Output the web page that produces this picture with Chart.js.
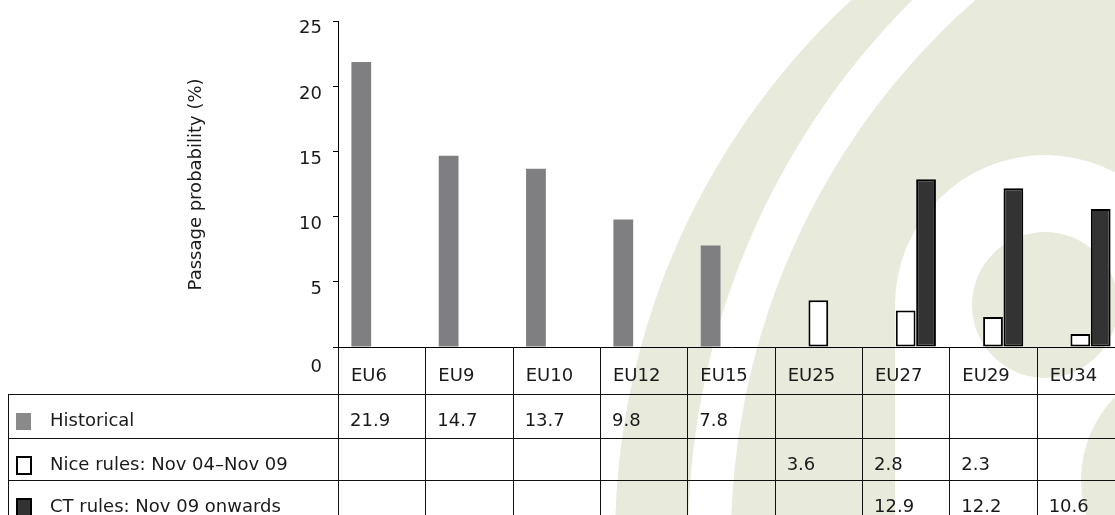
<!DOCTYPE html>
<html>
<head>
<meta charset="utf-8">
<script src="https://cdn.jsdelivr.net/npm/chart.js@4"></script>
<style>
  html, body { margin: 0; padding: 0; background: #fff; overflow: hidden; }
  canvas { display: block; }
</style>
</head>
<body>
<canvas id="passChart" width="1124" height="515"></canvas>
<script>
let categories = ["EU6", "EU9", "EU10", "EU12", "EU15", "EU25", "EU27", "EU29", "EU34"];
let historical = [21.9, 14.7, 13.7, 9.8, 7.8, null, null, null, null];
let niceRules = [null, null, null, null, null, 3.6, 2.8, 2.3, 1.0];
let ctRules = [null, null, null, null, null, null, 12.9, 12.2, 10.6];
let seriesNames = ["Historical", "Nice rules: Nov 04\u2013Nov 09", "CT rules: Nov 09 onwards"];
let yTicks = [0, 5, 10, 15, 20, 25];
// the small Nice-rules bar for EU34 has no number printed in the table
let unlisted = { 1: ["EU34"] };

let font = "'DejaVu Sans', sans-serif";
let beige = "#e8eadb";

// pale logo behind the chart
let watermark = {
  id: "watermark",
  beforeDraw(chart) {
    let c = chart.ctx;
    let disc = (x, y, r, col) => { c.fillStyle = col; c.beginPath(); c.arc(x, y, r, 0, Math.PI * 2); c.fill(); };
    c.save();
    disc(1350, 540, 735, beige);
    disc(1450, 540, 762, "#fff");
    disc(1450, 540, 719, beige);
    disc(1045, 305, 150, "#fff");
    c.fillStyle = "#fff";
    c.fillRect(895, 305, 230, 220);
    disc(1045, 305, 73, beige);
    disc(1200, 480, 119, beige);
    c.restore();
  }
};

// Excel style data table under the plot
let dataTable = {
  id: "dataTable",
  afterDraw(chart) {
    let c = chart.ctx;
    let a = chart.chartArea;
    let n = categories.length;
    let band = (a.right - a.left) / n;
    let rows = [a.bottom, a.bottom + 47, a.bottom + 91, a.bottom + 133];
    let bottom = chart.height + 5;
    let series = [historical, niceRules, ctRules];

    c.save();
    c.strokeStyle = "#111";
    c.lineWidth = 1;
    c.beginPath();
    for (let i = 1; i < rows.length; i++) {
      c.moveTo(8, Math.round(rows[i]) + 0.5);
      c.lineTo(a.right, Math.round(rows[i]) + 0.5);
    }
    c.moveTo(8.5, rows[1]);
    c.lineTo(8.5, bottom);
    for (let i = 0; i <= n; i++) {
      let x = Math.round(a.left + i * band) + 0.5;
      c.moveTo(x, a.bottom);
      c.lineTo(x, bottom);
    }
    c.stroke();

    c.fillStyle = "#1a1a1a";
    c.font = "18px " + font;
    c.textBaseline = "alphabetic";
    c.textAlign = "right";
    c.fillText(String(yTicks[0]), 322, rows[0] + 25);
    c.textAlign = "left";
    categories.forEach((cat, i) => c.fillText(cat, a.left + i * band + 13, rows[0] + 34));

    series.forEach((vals, s) => {
      let top = rows[s + 1];
      let ds = chart.data.datasets[s];
      c.fillStyle = ds.backgroundColor;
      if (s === 0) {
        c.fillStyle = "#8a8a8a";
        c.fillRect(16, top + 19, 15, 17);
      } else {
        c.fillRect(17, top + 19, 14, 17);
        c.strokeStyle = "#000";
        c.lineWidth = 2;
        c.strokeRect(17, top + 19, 14, 17);
      }
      c.fillStyle = "#1a1a1a";
      c.fillText(seriesNames[s], 50, top + 32);
      vals.forEach((v, i) => {
        if (v === null) return;
        if ((unlisted[s] || []).includes(categories[i])) return;
        c.fillText(v.toFixed(1), a.left + i * band + 12, top + 32);
      });
    });
    c.restore();
  }
};

let ctx = document.getElementById("passChart").getContext("2d");

let chart = new Chart(ctx, {
  type: "bar",
  data: {
    labels: categories,
    datasets: [
      { label: seriesNames[0], data: historical, backgroundColor: "#7f7f81", borderWidth: 0 },
      { label: seriesNames[1], data: niceRules, backgroundColor: "#ffffff", borderColor: "#000", borderWidth: 2, borderSkipped: false },
      { label: seriesNames[2], data: ctRules, backgroundColor: "#333333", borderColor: "#000", borderWidth: 2, borderSkipped: false }
    ]
  },
  options: {
    responsive: false,
    animation: false,
    categoryPercentage: 0.7,
    barPercentage: 0.97,
    layout: { padding: { left: 182, top: 20, right: 0, bottom: 0 } },
    plugins: { legend: { display: false }, tooltip: { enabled: false } },
    scales: {
      x: {
        grid: { display: false },
        border: { display: true, color: "#000", width: 1 },
        ticks: { display: false },
        afterFit: (s) => { s.height = 168; }
      },
      y: {
        min: yTicks[0],
        max: yTicks[yTicks.length - 1],
        ticks: {
          stepSize: 5,
          padding: 11,
          labelOffset: 7,
          color: "#1a1a1a",
          font: { family: font, size: 18 },
          callback: (v) => (v === 0 ? "" : v)
        },
        grid: { drawOnChartArea: false, drawTicks: true, tickLength: 5, color: "#000" },
        border: { display: true, color: "#000", width: 1 },
        title: {
          display: true,
          text: "Passage probability (%)",
          color: "#1a1a1a",
          font: { family: font, size: 18 }
        },
        afterFit: (s) => { s.width = 156; }
      }
    }
  },
  plugins: [watermark, dataTable]
});
</script>
</body>
</html>
